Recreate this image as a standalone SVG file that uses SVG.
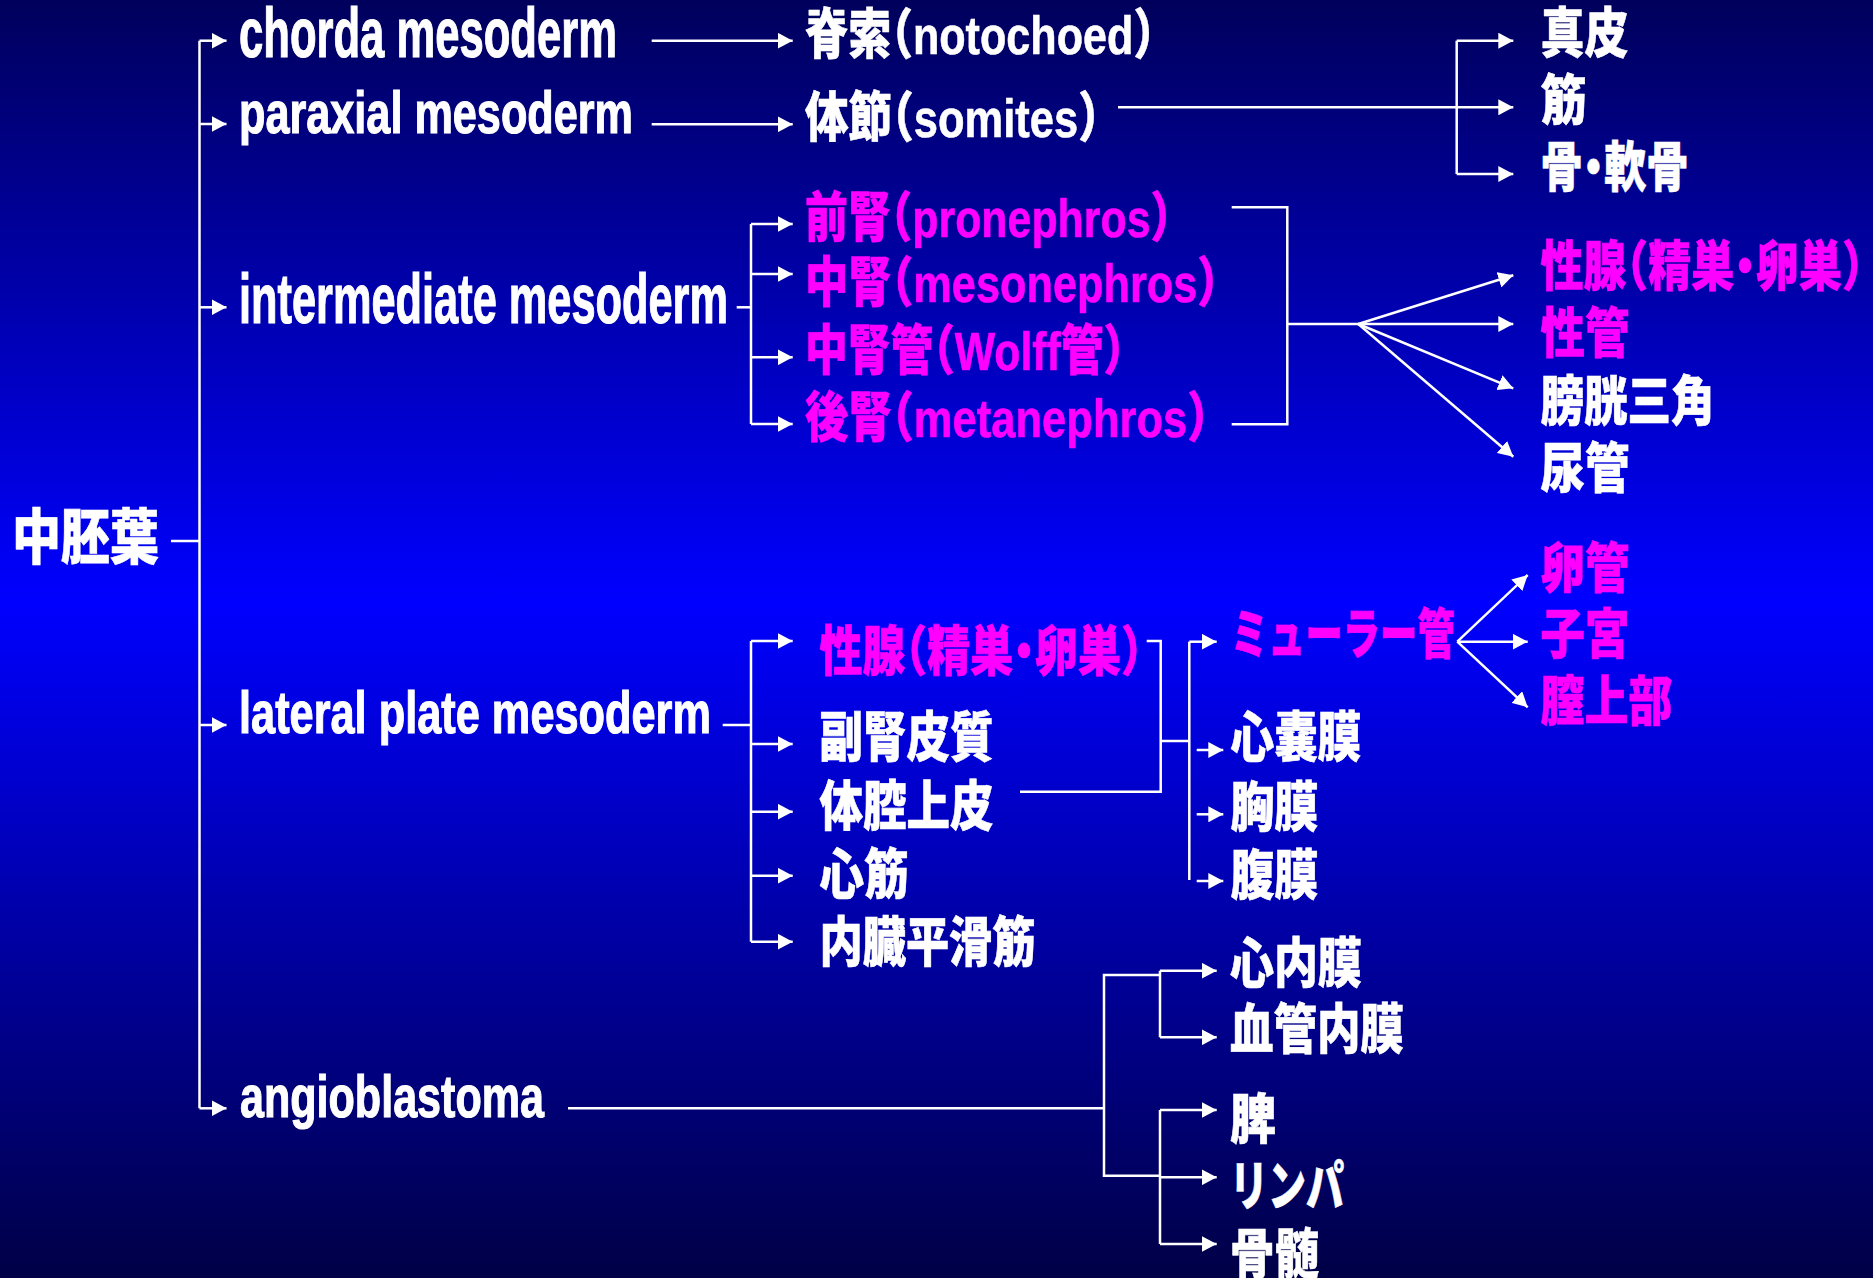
<svg xmlns="http://www.w3.org/2000/svg" width="1873" height="1278" viewBox="0 0 1873 1278">
<defs>
<linearGradient id="bg" x1="0" y1="0" x2="0" y2="1">
<stop offset="0" stop-color="#00005C"/>
<stop offset="0.47" stop-color="#0000FF"/>
<stop offset="1" stop-color="#000046"/>
</linearGradient>
<marker id="ah" markerUnits="userSpaceOnUse" markerWidth="16" markerHeight="16" refX="15" refY="8" orient="auto" viewBox="0 0 16 16">
<path d="M0,0 L15,8 L0,16 Z" fill="#fff"/>
</marker>
<style>
.en{font-family:"Liberation Sans",Arial,sans-serif;font-weight:bold;fill:#fff;stroke:#fff;stroke-width:1.2}
.jp{font-family:"Liberation Sans","Noto Sans CJK JP",sans-serif;font-weight:900;font-size:54px;font-feature-settings:"halt";stroke-width:0.6}
.w{fill:#fff;stroke:#fff}
.p{fill:#ff00ff;stroke:#ff00ff}
.c{stroke:#fff;stroke-width:2.5;fill:none}
.a{stroke:#fff;stroke-width:2.5;fill:none;marker-end:url(#ah)}
</style>
</defs>
<rect x="0" y="0" width="1873" height="1278" fill="url(#bg)"/>

<g id="connectors">
<!-- main tree -->
<path class="c" d="M171,541 H199.5"/>
<path class="c" d="M199.5,40.7 V1108.3"/>
<path class="a" d="M199.5,40.7 H226.5"/>
<path class="a" d="M199.5,124 H226.5"/>
<path class="a" d="M199.5,307.3 H226.5"/>
<path class="a" d="M199.5,725 H226.5"/>
<path class="a" d="M199.5,1108.3 H226.5"/>
<!-- chorda / paraxial -->
<path class="a" d="M651.7,40.7 H792.7"/>
<path class="a" d="M651.7,124.3 H792.7"/>
<!-- somites -->
<path class="c" d="M1118,107.3 H1456.7"/>
<path class="c" d="M1456.7,40.7 V174"/>
<path class="a" d="M1456.7,40.7 H1513.3"/>
<path class="a" d="M1456.7,107.3 H1513.3"/>
<path class="a" d="M1456.7,174 H1513.3"/>
<!-- intermediate -->
<path class="c" d="M736.7,307.3 H751"/>
<path class="c" d="M751,224 V424"/>
<path class="a" d="M751,224 H792.7"/>
<path class="a" d="M751,274 H792.7"/>
<path class="a" d="M751,357.3 H792.7"/>
<path class="a" d="M751,424 H792.7"/>
<path class="c" d="M1231.7,207.3 H1287.3 V424.3 H1231.7"/>
<path class="c" d="M1287.3,324 H1358.3"/>
<path class="a" d="M1358.3,324 L1513.3,275.3"/>
<path class="a" d="M1358.3,324 L1513.3,324"/>
<path class="a" d="M1358.3,324 L1513.3,388.3"/>
<path class="a" d="M1358.3,324 L1513.3,456.7"/>
<!-- lateral plate -->
<path class="c" d="M722.7,725 H751"/>
<path class="c" d="M751,641 V941.7"/>
<path class="a" d="M751,641 H792.7"/>
<path class="a" d="M751,744 H792.7"/>
<path class="a" d="M751,811.7 H792.7"/>
<path class="a" d="M751,875.7 H792.7"/>
<path class="a" d="M751,941.7 H792.7"/>
<path class="c" d="M1146.7,641 H1160.7 V791.7 H1020"/>
<path class="c" d="M1160.7,741 H1189.3"/>
<path class="c" d="M1189.3,641.7 V880"/>
<path class="a" d="M1189.3,641.7 H1216.7"/>
<path class="a" d="M1196.7,750 H1223.3"/>
<path class="a" d="M1196.7,814.3 H1223.3"/>
<path class="a" d="M1196.7,881 H1223.3"/>
<path class="a" d="M1457.3,641.7 L1527.7,575"/>
<path class="a" d="M1457.3,641.7 L1527.7,641.7"/>
<path class="a" d="M1457.3,641.7 L1527.7,707.3"/>
<!-- angioblastoma -->
<path class="c" d="M568,1108.3 H1104"/>
<path class="c" d="M1160,975 H1104 V1175.7 H1160"/>
<path class="c" d="M1160,970.7 V1037.3"/>
<path class="a" d="M1160,970.7 H1216.7"/>
<path class="a" d="M1160,1037.3 H1216.7"/>
<path class="c" d="M1160,1110 V1244"/>
<path class="a" d="M1160,1110 H1216.7"/>
<path class="a" d="M1160,1177.3 H1216.7"/>
<path class="a" d="M1160,1244 H1216.7"/>
</g>

<g id="n-mesoderm"><text class="jp w" x="12" y="559" style="font-size:60px" textLength="147" lengthAdjust="spacingAndGlyphs">中胚葉</text></g>

<g id="n-chorda"><text class="en" x="239" y="57.3" font-size="70" textLength="378" lengthAdjust="spacingAndGlyphs">chorda mesoderm</text></g>
<g id="n-paraxial"><text class="en" x="239" y="133.3" font-size="60" textLength="394" lengthAdjust="spacingAndGlyphs">paraxial mesoderm</text></g>
<g id="n-intermediate"><text class="en" x="239" y="323.3" font-size="70" textLength="489" lengthAdjust="spacingAndGlyphs">intermediate mesoderm</text></g>
<g id="n-lateral"><text class="en" x="239" y="733.3" font-size="60" textLength="472" lengthAdjust="spacingAndGlyphs">lateral plate mesoderm</text></g>
<g id="n-angio"><text class="en" x="240" y="1116.7" font-size="60" textLength="304" lengthAdjust="spacingAndGlyphs">angioblastoma</text></g>

<g id="n-notochord"><text class="jp w" x="805" y="54" textLength="350" lengthAdjust="spacingAndGlyphs">脊索（notochoed）</text></g>
<g id="n-somites"><text class="jp w" x="805" y="136.5" textLength="295" lengthAdjust="spacingAndGlyphs">体節（somites）</text></g>
<g id="n-dermis"><text class="jp w" x="1540.5" y="53" textLength="88" lengthAdjust="spacingAndGlyphs">真皮</text></g>
<g id="n-muscle"><text class="jp w" x="1540.5" y="119.5" textLength="46" lengthAdjust="spacingAndGlyphs">筋</text></g>
<g id="n-bone"><text class="jp w" x="1540.5" y="187" textLength="148" lengthAdjust="spacingAndGlyphs">骨・軟骨</text></g>

<g id="n-pronephros"><text class="jp p" x="805" y="237" textLength="367" lengthAdjust="spacingAndGlyphs">前腎（pronephros）</text></g>
<g id="n-mesonephros"><text class="jp p" x="805" y="302" textLength="414" lengthAdjust="spacingAndGlyphs">中腎（mesonephros）</text></g>
<g id="n-wolff"><text class="jp p" x="805" y="369.5" textLength="320" lengthAdjust="spacingAndGlyphs">中腎管（Wolff管）</text></g>
<g id="n-metanephros"><text class="jp p" x="805" y="437" textLength="404" lengthAdjust="spacingAndGlyphs">後腎（metanephros）</text></g>

<g id="n-gonad1"><text class="jp p" x="1540.5" y="285.5" textLength="323" lengthAdjust="spacingAndGlyphs">性腺（精巣・卵巣）</text></g>
<g id="n-genital-duct"><text class="jp p" x="1540.5" y="352.5" textLength="89" lengthAdjust="spacingAndGlyphs">性管</text></g>
<g id="n-trigone"><text class="jp w" x="1540.5" y="420.5" textLength="174" lengthAdjust="spacingAndGlyphs">膀胱三角</text></g>
<g id="n-ureter"><text class="jp w" x="1540.5" y="487.5" textLength="89" lengthAdjust="spacingAndGlyphs">尿管</text></g>

<g id="n-gonad2"><text class="jp p" x="819.5" y="670.5" textLength="323" lengthAdjust="spacingAndGlyphs">性腺（精巣・卵巣）</text></g>
<g id="n-adrenal"><text class="jp w" x="819.5" y="756.5" textLength="174" lengthAdjust="spacingAndGlyphs">副腎皮質</text></g>
<g id="n-coelom"><text class="jp w" x="819.5" y="825.5" textLength="174" lengthAdjust="spacingAndGlyphs">体腔上皮</text></g>
<g id="n-cardiac"><text class="jp w" x="819.5" y="893.5" textLength="89" lengthAdjust="spacingAndGlyphs">心筋</text></g>
<g id="n-smooth"><text class="jp w" x="819.5" y="961.5" textLength="216" lengthAdjust="spacingAndGlyphs">内臓平滑筋</text></g>

<g id="n-muller"><text class="jp p" x="1230.5" y="654" textLength="224" lengthAdjust="spacingAndGlyphs">ミューラー管</text></g>
<g id="n-oviduct"><text class="jp p" x="1540.5" y="587.5" textLength="89" lengthAdjust="spacingAndGlyphs">卵管</text></g>
<g id="n-uterus"><text class="jp p" x="1540.5" y="653.5" textLength="89" lengthAdjust="spacingAndGlyphs">子宮</text></g>
<g id="n-vagina"><text class="jp p" x="1540.5" y="720.5" textLength="132" lengthAdjust="spacingAndGlyphs">膣上部</text></g>
<g id="n-pericardium"><text class="jp w" x="1230.5" y="756.5" textLength="131" lengthAdjust="spacingAndGlyphs">心嚢膜</text></g>
<g id="n-pleura"><text class="jp w" x="1230.5" y="827" textLength="88" lengthAdjust="spacingAndGlyphs">胸膜</text></g>
<g id="n-peritoneum"><text class="jp w" x="1230.5" y="894.5" textLength="88" lengthAdjust="spacingAndGlyphs">腹膜</text></g>

<g id="n-endocardium"><text class="jp w" x="1230" y="982.5" textLength="132" lengthAdjust="spacingAndGlyphs">心内膜</text></g>
<g id="n-endothelium"><text class="jp w" x="1230" y="1048.5" textLength="174" lengthAdjust="spacingAndGlyphs">血管内膜</text></g>
<g id="n-spleen"><text class="jp w" x="1230" y="1139" textLength="46" lengthAdjust="spacingAndGlyphs">脾</text></g>
<g id="n-lymph"><text class="jp w" x="1230" y="1205.5" textLength="114" lengthAdjust="spacingAndGlyphs">リンパ</text></g>
<g id="n-marrow"><text class="jp w" x="1230" y="1273.5" textLength="89" lengthAdjust="spacingAndGlyphs">骨髄</text></g>
</svg>
